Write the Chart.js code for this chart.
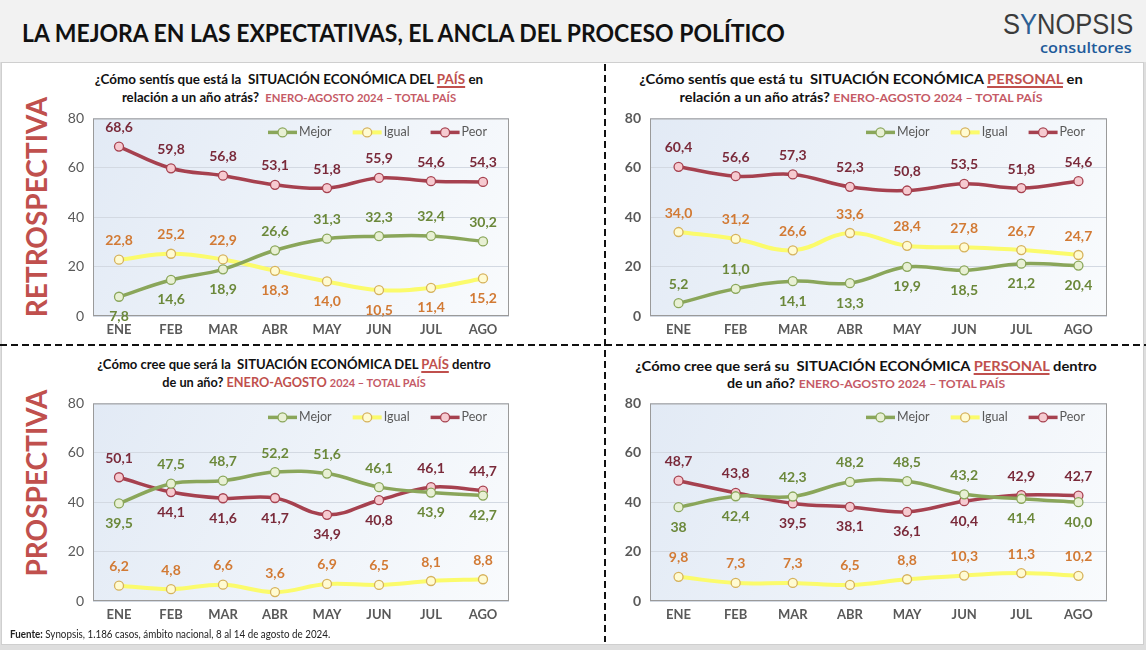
<!DOCTYPE html>
<html>
<head>
<meta charset="utf-8">
<script src="https://cdn.jsdelivr.net/npm/chart.js@4.4.1/dist/chart.umd.min.js"></script>
<style>
  html, body { margin: 0; padding: 0; }
  body { width: 1146px; height: 650px; position: relative; overflow: hidden; background: #dedede; font-family: Lato, 'Open Sans', sans-serif; }
  #header { position: absolute; left: 0; top: 0; width: 1146px; height: 62px; background: #f2f2f2; }
  #panel { position: absolute; left: 1px; top: 62px; width: 1143px; height: 583px; background: #fff; border: 1px solid #cfcfcf; box-sizing: border-box; }
  .fit { position: absolute; white-space: nowrap; }
  #title { left: 22px; top: 18px; font-weight: bold; font-size: 24px; color: #111; transform-origin: left center; }
  #logo1 { left: 1003px; top: 7px; font-size: 30px; color: #3b3b3b; font-family: 'Liberation Sans', Arial, sans-serif; transform-origin: left center; }
  #logo1 .y { color: #2d5f94; }
  #logo2 { left: 1040px; top: 37px; font-size: 15px; color: #1f5b9a; font-weight: 600; font-family: 'Open Sans', sans-serif; transform-origin: left center; }
  .vlab { position: absolute; font-weight: bold; font-size: 28px; color: #c0504d; white-space: nowrap; transform: translate(-50%, -50%) rotate(-90deg); }
  .ql { font-weight: bold; font-size: 14px; line-height: 18px; color: #111; transform-origin: center center; }
  .ql u { color: #c0504d; text-decoration-color: #c0504d; text-decoration-thickness: 1.5px; text-underline-offset: 2px; }
  .ql .per { font-size: 12px; color: #c55a66; }
  .ql .big { color: #c0504d; }
  .hdash { position: absolute; left: 0; top: 344px; width: 1146px; height: 2px; background: repeating-linear-gradient(to right, #111 0 7px, transparent 7px 11px); }
  .vdash { position: absolute; left: 604px; top: 64px; width: 2px; height: 578px; background: repeating-linear-gradient(to bottom, #111 0 7px, transparent 7px 11px); }
  canvas { position: absolute; }
  #foot { left: 10px; top: 626px; font-size: 12px; color: #222; transform-origin: left center; }
</style>
</head>
<body>
<div id="header"></div>
<div id="panel"></div>
<div id="title" class="fit" data-w="763">LA MEJORA EN LAS EXPECTATIVAS, EL ANCLA DEL PROCESO POLÍTICO</div>
<div id="logo1" class="fit" data-w="130">S<span class="y">Y</span>NOPSIS</div>
<div id="logo2" class="fit" data-w="92">consultores</div>

<div class="vlab" style="left:36px;top:207px">RETROSPECTIVA</div>
<div class="vlab" style="left:36px;top:483px">PROSPECTIVA</div>

<div class="fit ql c" data-w="388" style="left:289px;top:70px">¿Cómo sentís que está la&nbsp; SITUACIÓN ECONÓMICA DEL <u>PAÍS</u> en</div>
<div class="fit ql c" data-w="334" style="left:289px;top:88px">relación a un año atrás?&nbsp; <span class="per">ENERO-AGOSTO 2024 – TOTAL PAÍS</span></div>

<div class="fit ql c" data-w="443" style="left:861px;top:70px">¿Cómo sentís que está tu&nbsp; SITUACIÓN ECONÓMICA <u>PERSONAL</u> en</div>
<div class="fit ql c" data-w="363" style="left:861px;top:88px">relación a un año atrás? <span class="per">ENERO-AGOSTO 2024 – TOTAL PAÍS</span></div>

<div class="fit ql c" data-w="393" style="left:294px;top:355px">¿Cómo cree que será la&nbsp; SITUACIÓN ECONÓMICA DEL <u>PAÍS</u> dentro</div>
<div class="fit ql c" data-w="263" style="left:294px;top:373px">de un año? <span class="big">ENERO-AGOSTO</span> <span class="per">2024 – TOTAL PAÍS</span></div>

<div class="fit ql c" data-w="462" style="left:866px;top:357px">¿Cómo cree que será su&nbsp; SITUACIÓN ECONÓMICA <u>PERSONAL</u> dentro</div>
<div class="fit ql c" data-w="278" style="left:866px;top:374px">de un año? <span class="per">ENERO-AGOSTO 2024 – TOTAL PAÍS</span></div>

<div class="hdash"></div>
<div class="vdash"></div>

<canvas id="c-tl" width="460" height="244" style="left:60px;top:101px"></canvas>
<canvas id="c-tr" width="510" height="244" style="left:610px;top:101px"></canvas>
<canvas id="c-bl" width="460" height="244" style="left:60px;top:386px"></canvas>
<canvas id="c-br" width="510" height="244" style="left:610px;top:386px"></canvas>

<div id="foot" class="fit" data-w="320"><b>Fuente:</b> Synopsis, 1.186 casos, ámbito nacional, 8 al 14 de agosto de 2024.</div>

<script>
// ── Data ─────────────────────────────────────────────────────────────────────

const months = ['ENE', 'FEB', 'MAR', 'ABR', 'MAY', 'JUN', 'JUL', 'AGO']
const yTicks = [0, 20, 40, 60, 80]

// situación económica del país, vs. un año atrás
const paisRetroMejor = [7.8, 14.6, 18.9, 26.6, 31.3, 32.3, 32.4, 30.2]
const paisRetroIgual = [22.8, 25.2, 22.9, 18.3, 14.0, 10.5, 11.4, 15.2]
const paisRetroPeor = [68.6, 59.8, 56.8, 53.1, 51.8, 55.9, 54.6, 54.3]

// situación económica personal, vs. un año atrás
const persRetroMejor = [5.2, 11.0, 14.1, 13.3, 19.9, 18.5, 21.2, 20.4]
const persRetroIgual = [34.0, 31.2, 26.6, 33.6, 28.4, 27.8, 26.7, 24.7]
const persRetroPeor = [60.4, 56.6, 57.3, 52.3, 50.8, 53.5, 51.8, 54.6]

// situación económica del país, dentro de un año
const paisProspMejor = [39.5, 47.5, 48.7, 52.2, 51.6, 46.1, 43.9, 42.7]
const paisProspIgual = [6.2, 4.8, 6.6, 3.6, 6.9, 6.5, 8.1, 8.8]
const paisProspPeor = [50.1, 44.1, 41.6, 41.7, 34.9, 40.8, 46.1, 44.7]

// situación económica personal, dentro de un año
const persProspMejor = [38, 42.4, 42.3, 48.2, 48.5, 43.2, 41.4, 40.0]
const persProspIgual = [9.8, 7.3, 7.3, 6.5, 8.8, 10.3, 11.3, 10.2]
const persProspPeor = [48.7, 43.8, 39.5, 38.1, 36.1, 40.4, 42.9, 42.7]


// ── Text fitting (Calibri-like widths) ───────────────────────────────────────

document.querySelectorAll('.fit').forEach(el => {
    const k = el.dataset.w / el.offsetWidth
    el.style.transform = (el.classList.contains('c') ? 'translateX(-50%) ' : '') + `scaleX(${k})`
})


// ── Look ─────────────────────────────────────────────────────────────────────

const FONT = 'Lato, "Open Sans", sans-serif'
const style = {
    Mejor: { line: '#8aa65a', fill: '#e8f0d4', border: '#8aa65a', label: '#6b883a', width: 3.5 },
    Igual: { line: '#fbfb6c', fill: '#fffbd2', border: '#d6b25c', label: '#d27a34', width: 4 },
    Peor: { line: '#a6414f', fill: '#f6cad0', border: '#a6414f', label: '#7a2a3a', width: 3.5 },
}

// label placement per point: 'a' above, 'b' below
const A8 = 'aaaaaaaa'

const fmt = (v, asInt) => asInt ? String(Math.round(v)) : v.toFixed(1).replace('.', ',')


// ── Plugins ──────────────────────────────────────────────────────────────────

const plotFrame = {
    id: 'plotFrame',
    beforeDraw(chart) {
        const { ctx, chartArea: a } = chart
        const g = ctx.createLinearGradient(a.left, a.top, a.right, a.bottom)
        g.addColorStop(0, '#e2eaf5')
        g.addColorStop(1, '#f9fbfd')
        ctx.save()
        ctx.fillStyle = g
        ctx.fillRect(a.left, a.top, a.width, a.height)
        ctx.restore()
    },
    beforeDatasetsDraw(chart) {
        const { ctx, chartArea: a } = chart
        ctx.save()
        ctx.strokeStyle = '#9a9a9a'
        ctx.lineWidth = 1
        ctx.strokeRect(a.left + 0.5, a.top + 0.5, a.width - 1, a.height - 1)
        ctx.restore()
    },
}

const pointLabels = {
    id: 'pointLabels',
    afterDatasetsDraw(chart) {
        const { ctx } = chart
        ctx.save()
        ctx.textAlign = 'center'
        ctx.textBaseline = 'middle'
        chart.data.datasets.forEach((ds, i) => {
            const meta = chart.getDatasetMeta(i)
            ctx.font = `bold 14px ${FONT}`
            ctx.fillStyle = style[ds.label].label
            meta.data.forEach((pt, j) => {
                const dy = ds.place[j] === 'b' ? 20 : -19
                ctx.fillText(fmt(ds.data[j], ds.intLabels?.includes(j)), pt.x, pt.y + dy)
            })
        })
        ctx.restore()
    },
}

const innerLegend = {
    id: 'innerLegend',
    afterDraw(chart) {
        const { ctx, chartArea: a } = chart
        ctx.save()
        ctx.font = `12.5px ${FONT}`
        ctx.textBaseline = 'middle'
        const y = a.top + 14
        let x = a.right - 22
        ;[...chart.data.datasets].reverse().forEach(ds => {
            const s = style[ds.label]
            const w = ctx.measureText(ds.label).width
            ctx.fillStyle = '#595959'
            ctx.fillText(ds.label, x - w, y)
            const x1 = x - w - 2, x0 = x1 - 29
            ctx.strokeStyle = s.line
            ctx.lineWidth = s.width
            ctx.beginPath(); ctx.moveTo(x0, y); ctx.lineTo(x1, y); ctx.stroke()
            ctx.beginPath(); ctx.arc((x0 + x1) / 2, y, 4.5, 0, Math.PI * 2)
            ctx.fillStyle = s.fill; ctx.fill()
            ctx.lineWidth = 1.3; ctx.strokeStyle = s.border; ctx.stroke()
            x = x0 - 21
        })
        ctx.restore()
    },
}


// ── Charts ───────────────────────────────────────────────────────────────────

function dataset(name, values, place, extra = {}) {
    const s = style[name]
    return {
        label: name,
        data: values,
        place,
        borderColor: s.line,
        borderWidth: s.width,
        pointRadius: 4.5,
        pointBorderWidth: 1.3,
        pointBackgroundColor: s.fill,
        pointBorderColor: s.border,
        tension: 0.4,
        ...extra,
    }
}

function makeChart(id, sets, yWidth, tickBold) {
    return new Chart(document.getElementById(id), {
        type: 'line',
        data: { labels: months, datasets: sets },
        plugins: [plotFrame, pointLabels, innerLegend],
        options: {
            responsive: false,
            animation: false,
            layout: { padding: { top: 5, right: id.endsWith('l') ? 11 : 13, left: 0, bottom: 0 } },
            plugins: { legend: { display: false }, tooltip: { enabled: false } },
            scales: {
                x: {
                    offset: true,
                    grid: { display: false, drawTicks: false },
                    border: { display: false },
                    ticks: { color: '#595959', padding: 6, font: { family: FONT, size: 13, weight: 'bold' } },
                    afterFit: sc => { sc.height = 29 },
                },
                y: {
                    min: yTicks[0],
                    max: yTicks[yTicks.length - 1],
                    afterBuildTicks: sc => { sc.ticks = yTicks.map(v => ({ value: v })) },
                    grid: { color: '#d3d9e2', drawTicks: false },
                    border: { display: false },
                    ticks: { color: '#595959', padding: 9, font: { family: FONT, size: 14, weight: tickBold ? 'bold' : 'normal' } },
                    afterFit: sc => { sc.width = yWidth },
                },
            },
        },
    })
}

makeChart('c-tl', [
    dataset('Mejor', paisRetroMejor, 'bbbaaaaa'),
    dataset('Igual', paisRetroIgual, 'aaabbbbb'),
    dataset('Peor', paisRetroPeor, A8),
], 33, false)

makeChart('c-tr', [
    dataset('Mejor', persRetroMejor, 'aabbbbbb'),
    dataset('Igual', persRetroIgual, A8),
    dataset('Peor', persRetroPeor, A8),
], 40, true)

makeChart('c-bl', [
    dataset('Mejor', paisProspMejor, 'baaaaabb'),
    dataset('Igual', paisProspIgual, A8),
    dataset('Peor', paisProspPeor, 'abbbbbaa'),
], 33, false)

makeChart('c-br', [
    dataset('Mejor', persProspMejor, 'bbaaaabb', { intLabels: [0] }),
    dataset('Igual', persProspIgual, A8),
    dataset('Peor', persProspPeor, 'aabbbbaa'),
], 40, true)
</script>
</body>
</html>
